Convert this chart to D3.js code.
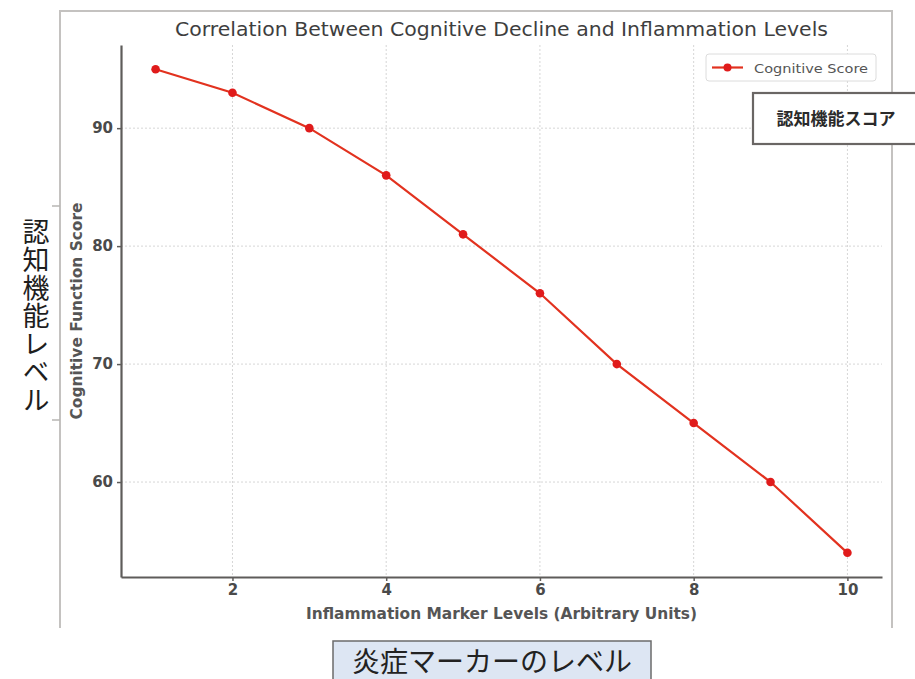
<!DOCTYPE html>
<html>
<head>
<meta charset="utf-8">
<script src="https://cdn.jsdelivr.net/npm/d3@7"></script>
<style>
  body { margin: 0; background: #fff; }
  svg { display: block; }
</style>
</head>
<body>
<div id="chart"></div>
<script>
// data
const markerLevels = [1, 2, 3, 4, 5, 6, 7, 8, 9, 10];
const cognitiveScores = [95, 93, 90, 86, 81, 76, 70, 65, 60, 54];
const xTicks = [2, 4, 6, 8, 10];
const yTicks = [60, 70, 80, 90];
const seriesName = "Cognitive Score";

let W = 915, H = 679;
let plot = {left: 121, right: 882, top: 45, bottom: 577};

const svg = d3.select("#chart")
    .append("svg")
    .attr("width", W)
    .attr("height", H);

// outer frame of the scanned figure (bottom edge is cut off)
svg.append("path")
    .attr("d", `M60,628 V11 H892 V628`)
    .style("fill", "none")
    .style("stroke", "#c4c2c0")
    .style("stroke-width", 2);

// left bracket ticks
svg.append("path")
    .attr("d", "M52,206 H60 M52,420 H60")
    .style("fill", "none")
    .style("stroke", "#b8b6b4")
    .style("stroke-width", 1.5);

let x = d3.scaleLinear()
    .domain([0.55, 10.45])
    .range([plot.left, plot.right]);
let y = d3.scaleLinear()
    .domain([51.95, 97.05])
    .range([plot.bottom, plot.top]);

// grid
svg.append("g")
    .selectAll("line")
    .data(xTicks)
    .enter()
    .append("line")
    .attr("x1", d => x(d)).attr("x2", d => x(d))
    .attr("y1", plot.top).attr("y2", plot.bottom)
    .style("stroke", "#d6d6d6")
    .style("stroke-width", 1)
    .style("stroke-dasharray", "2,2");
svg.append("g")
    .selectAll("line")
    .data(yTicks)
    .enter()
    .append("line")
    .attr("x1", plot.left).attr("x2", plot.right)
    .attr("y1", d => y(d)).attr("y2", d => y(d))
    .style("stroke", "#d6d6d6")
    .style("stroke-width", 1)
    .style("stroke-dasharray", "2,2");

// axes
let xAxis = svg.append("g")
    .attr("transform", `translate(0,${plot.bottom})`)
    .call(d3.axisBottom(x).tickValues(xTicks).tickSize(4).tickSizeOuter(0).tickPadding(3));
let yAxis = svg.append("g")
    .attr("transform", `translate(${plot.left},0)`)
    .call(d3.axisLeft(y).tickValues(yTicks).tickSize(4).tickSizeOuter(0).tickPadding(4));
[xAxis, yAxis].forEach(a => {
    a.select(".domain").style("stroke", "#5e5c5a").style("stroke-width", 2.2);
    a.selectAll(".tick line").style("stroke", "#5e5c5a").style("stroke-width", 1.5);
    a.selectAll(".tick text")
        .style("font-family", "DejaVu Sans")
        .style("font-size", "15px")
        .style("font-weight", "bold")
        .style("fill", "#4a4a4a");
});

// title and axis labels
svg.append("text")
    .attr("x", (plot.left + plot.right) / 2)
    .attr("y", 36)
    .attr("text-anchor", "middle")
    .attr("textLength", 653)
    .attr("lengthAdjust", "spacingAndGlyphs")
    .style("font-family", "DejaVu Sans")
    .style("font-size", "19px")
    .style("fill", "#3e3e3e")
    .text("Correlation Between Cognitive Decline and Inflammation Levels");

svg.append("text")
    .attr("x", (plot.left + plot.right) / 2)
    .attr("y", 619)
    .attr("text-anchor", "middle")
    .attr("textLength", 391)
    .attr("lengthAdjust", "spacingAndGlyphs")
    .style("font-family", "DejaVu Sans")
    .style("font-size", "16px")
    .style("font-weight", "600")
    .style("fill", "#555")
    .text("Inflammation Marker Levels (Arbitrary Units)");

svg.append("text")
    .attr("transform", `translate(82,${(plot.top + plot.bottom) / 2}) rotate(-90)`)
    .attr("text-anchor", "middle")
    .attr("textLength", 217)
    .attr("lengthAdjust", "spacingAndGlyphs")
    .style("font-family", "DejaVu Sans")
    .style("font-size", "15px")
    .style("font-weight", "600")
    .style("fill", "#555")
    .text("Cognitive Function Score");

// the series
let line = d3.line()
    .x((d, i) => x(markerLevels[i]))
    .y(d => y(d));
svg.append("path")
    .datum(cognitiveScores)
    .attr("d", line)
    .style("fill", "none")
    .style("stroke", "#e2321f")
    .style("stroke-width", 2.2);
svg.append("g")
    .selectAll("circle")
    .data(cognitiveScores)
    .enter()
    .append("circle")
    .attr("cx", (d, i) => x(markerLevels[i]))
    .attr("cy", d => y(d))
    .attr("r", 4.3)
    .style("fill", "#e01b1b");

// legend
let legend = svg.append("g").attr("transform", "translate(706,54)");
legend.append("rect")
    .attr("width", 170).attr("height", 27).attr("rx", 3)
    .style("fill", "#fff")
    .style("stroke", "#dcdcdc");
legend.append("line")
    .attr("x1", 6).attr("x2", 37).attr("y1", 13.5).attr("y2", 13.5)
    .style("stroke", "#e2321f").style("stroke-width", 2.2);
legend.append("circle")
    .attr("cx", 21.5).attr("cy", 13.5).attr("r", 4)
    .style("fill", "#e01b1b");
legend.append("text")
    .attr("x", 48).attr("y", 18.5)
    .attr("textLength", 114)
    .attr("lengthAdjust", "spacingAndGlyphs")
    .style("font-family", "DejaVu Sans")
    .style("font-size", "13px")
    .style("fill", "#555")
    .text(seriesName);

// annotation box on the right (runs off the edge)
svg.append("rect")
    .attr("x", 753).attr("y", 93).attr("width", 180).attr("height", 51)
    .style("fill", "#fff")
    .style("stroke", "#6a6664")
    .style("stroke-width", 2.2);
svg.append("text")
    .attr("x", 836).attr("y", 125)
    .attr("text-anchor", "middle")
    .style("font-family", "Noto Sans CJK JP")
    .style("font-size", "17px")
    .style("font-weight", "bold")
    .style("fill", "#2a2a2a")
    .text("認知機能スコア");

// vertical Japanese label on the left
svg.append("text")
    .attr("x", 36).attr("y", 218)
    .attr("writing-mode", "vertical-rl")
    .style("font-family", "Noto Sans CJK JP")
    .style("font-size", "27px")
    .style("letter-spacing", "1px")
    .style("fill", "#1e1e1e")
    .text("認知機能レベル");

// bottom label box
svg.append("rect")
    .attr("x", 333).attr("y", 641).attr("width", 318).attr("height", 50)
    .style("fill", "#dde6f3")
    .style("stroke", "#6b6b6b")
    .style("stroke-width", 1.5);
svg.append("text")
    .attr("x", 492).attr("y", 672)
    .attr("text-anchor", "middle")
    .style("font-family", "Noto Sans CJK JP")
    .style("font-size", "28px")
    .style("fill", "#222")
    .text("炎症マーカーのレベル");
</script>
</body>
</html>
